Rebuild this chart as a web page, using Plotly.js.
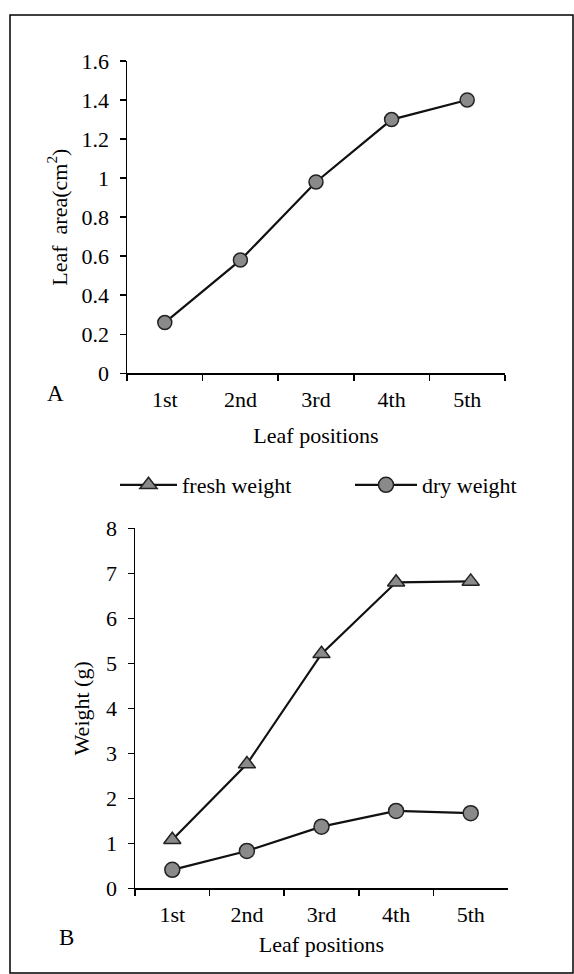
<!DOCTYPE html>
<html>
<head>
<meta charset="utf-8">
<script src="https://cdn.plot.ly/plotly-3.0.1.min.js"></script>
<style>html,body{margin:0;padding:0;background:#fff;}#chart{width:574px;height:974px;}</style>
</head>
<body>
<div id="chart"></div>
<script>
var positions = ["1st", "2nd", "3rd", "4th", "5th"];
var leafArea = [0.26, 0.58, 0.98, 1.30, 1.40];
var freshWeight = [1.08, 2.76, 5.21, 6.80, 6.82];
var dryWeight = [0.41, 0.83, 1.37, 1.72, 1.67];
var areaTicks = [0, 0.2, 0.4, 0.6, 0.8, 1, 1.2, 1.4, 1.6];
var weightTicks = [0, 1, 2, 3, 4, 5, 6, 7, 8];

var W = 574, H = 974;
function px(x){return x/W;}
function py(y){return 1 - y/H;}

var font = {family: "Liberation Serif, Times New Roman, serif", size: 22, color: "#000"};

var traces = [
  {x: positions, y: leafArea, xaxis: "x", yaxis: "y", type: "scatter", mode: "lines+markers",
   line: {color: "#111", width: 2.2}, showlegend: false,
   marker: {symbol: "circle", size: 14, color: "#8a8a8a", line: {color: "#222", width: 1.5}}},
  {x: positions, y: freshWeight, xaxis: "x2", yaxis: "y2", type: "scatter", mode: "lines+markers",
   name: "fresh weight", legend: "legend", line: {color: "#111", width: 2.2},
   marker: {symbol: "triangle-up", size: 15, color: "#8a8a8a", line: {color: "#222", width: 1.5}}},
  {x: positions, y: dryWeight, xaxis: "x2", yaxis: "y2", type: "scatter", mode: "lines+markers",
   name: "dry weight", legend: "legend2", line: {color: "#111", width: 2.2},
   marker: {symbol: "circle", size: 15, color: "#8a8a8a", line: {color: "#222", width: 1.5}}}
];

var xCommon = {type: "category", range: [-0.5, 4.5], showline: true, linecolor: "#000", linewidth: 1.5,
  ticks: "outside", tickson: "boundaries", ticklen: 6, tickcolor: "#000", tickwidth: 1.5,
  ticklabelstandoff: 6,
  showgrid: false, zeroline: false, tickfont: font, fixedrange: true};
var yCommon = {showline: true, linecolor: "#000", linewidth: 1.5, ticks: "outside", ticklen: 6,
  tickcolor: "#000", tickwidth: 1.5, ticklabelstandoff: 6,
  showgrid: false, zeroline: false, tickfont: font, fixedrange: true};

var legendBase = {orientation: "h", xanchor: "left", yanchor: "middle",
  font: font, bgcolor: "rgba(0,0,0,0)", borderwidth: 0};

var layout = {
  width: W, height: H,
  margin: {l: 0, r: 0, t: 0, b: 0},
  paper_bgcolor: "#fff", plot_bgcolor: "#fff",
  font: font,
  showlegend: true,
  legend: Object.assign({}, legendBase, {x: px(115), y: py(485), itemwidth: 57}),
  legend2: Object.assign({}, legendBase, {x: px(350), y: py(485), itemwidth: 62}),
  xaxis: Object.assign({}, xCommon, {domain: [px(127), px(505)], anchor: "y",
    title: {text: "Leaf positions", font: font, standoff: 16}}),
  yaxis: Object.assign({}, yCommon, {domain: [py(373.3), py(61)], anchor: "x", range: [0, 1.6],
    tickvals: areaTicks, ticktext: areaTicks.map(String),
    title: {text: "Leaf  area(cm<sup>2</sup>)", font: font, standoff: 8}}),
  xaxis2: Object.assign({}, xCommon, {domain: [px(135), px(508)], anchor: "y2",
    title: {text: "Leaf positions", font: font, standoff: 10}}),
  yaxis2: Object.assign({}, yCommon, {domain: [py(888.3), py(528.3)], anchor: "x2", range: [0, 8],
    tickvals: weightTicks, ticktext: weightTicks.map(String),
    title: {text: "Weight (g)", font: font, standoff: 10}}),
  annotations: [
    {text: "A", x: px(55), y: py(394), xref: "paper", yref: "paper", xanchor: "center", yanchor: "middle",
     showarrow: false, font: {family: font.family, size: 23, color: "#000"}},
    {text: "B", x: px(66), y: py(937), xref: "paper", yref: "paper", xanchor: "center", yanchor: "middle",
     showarrow: false, font: {family: font.family, size: 23, color: "#000"}}
  ],
  shapes: [
    {type: "rect", xref: "paper", yref: "paper", x0: px(10), x1: px(573), y0: py(973), y1: py(15),
     line: {color: "#000", width: 1.5}}
  ]
};

Plotly.newPlot("chart", traces, layout, {staticPlot: true, displayModeBar: false});
</script>
</body>
</html>
